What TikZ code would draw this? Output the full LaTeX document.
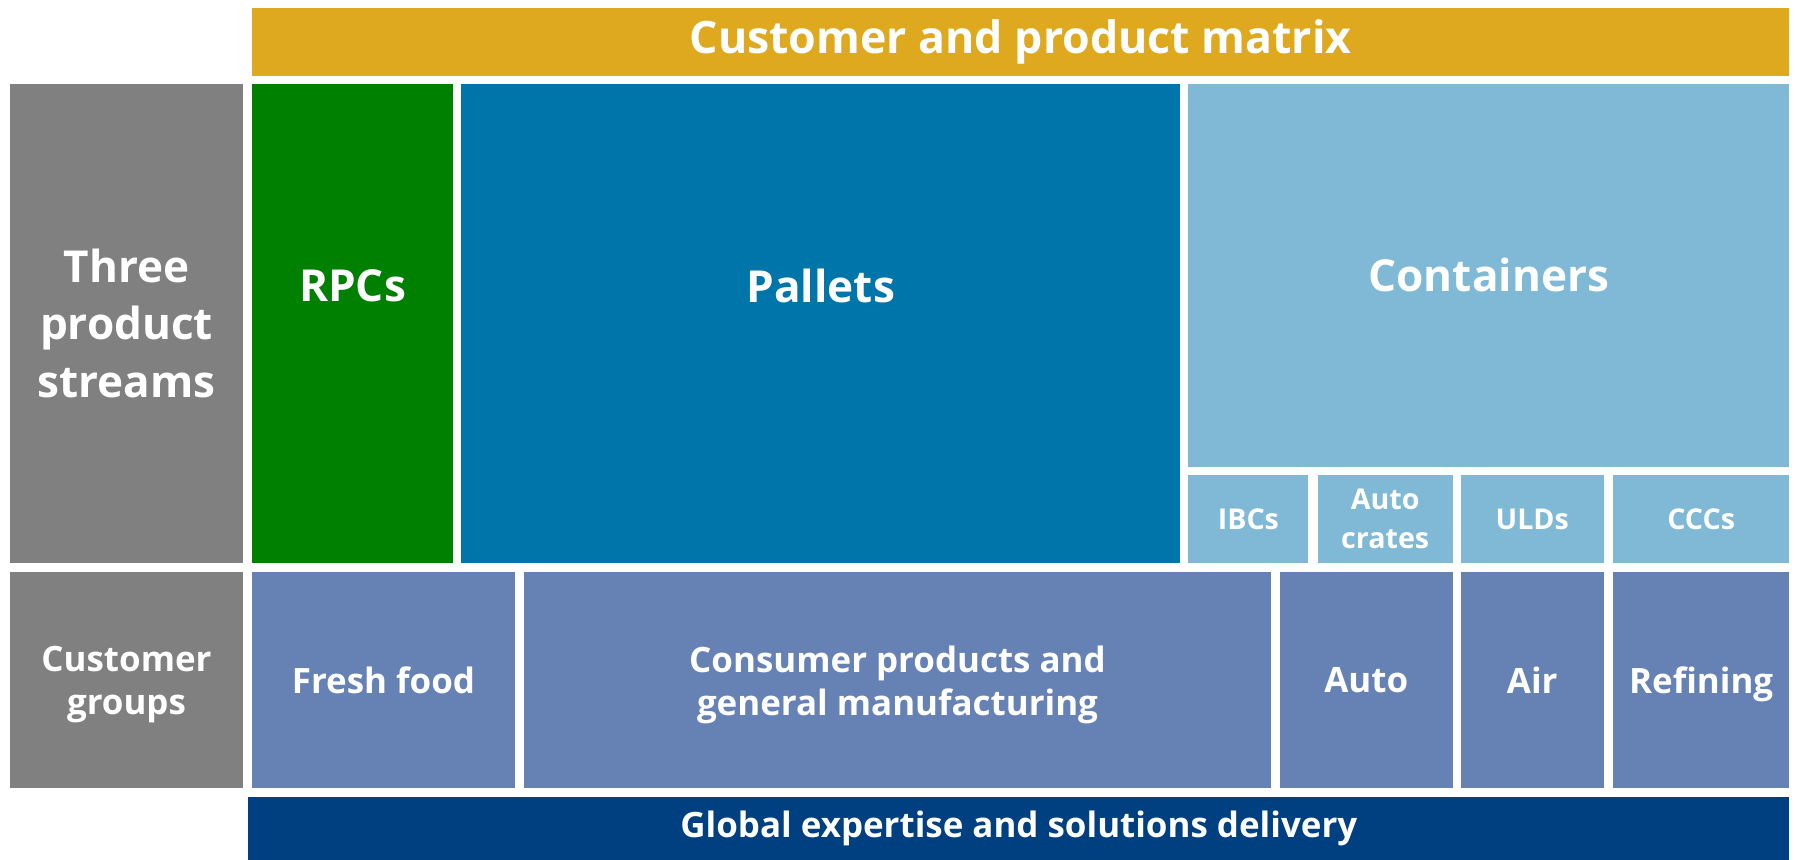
\documentclass[tikz,border=0pt]{standalone}
\usepackage{fontspec}
\setmainfont{Open Sans}
\definecolor{cgold}{RGB}{223,169,31}
\definecolor{cgray}{RGB}{128,128,128}
\definecolor{cgreen}{RGB}{0,128,0}
\definecolor{cpal}{RGB}{0,117,170}
\definecolor{clight}{RGB}{128,185,214}
\definecolor{cmid}{RGB}{102,130,180}
\definecolor{cdark}{RGB}{0,64,128}
\tikzset{
  cell/.style={inner sep=0pt, outer sep=0pt, anchor=north west, text=white, align=center, font=\bfseries},
  lbl/.style={inner sep=0pt, text=white, align=center},
  big/.style={font=\fontsize{38.5}{50}\selectfont\bfseries},
  med/.style={font=\fontsize{30.5}{37.5}\selectfont\bfseries},
  sml/.style={font=\fontsize{25}{34}\selectfont\bfseries},
  ttl/.style={font=\fontsize{39}{42}\selectfont\bfseries},
}
\begin{document}
\begin{tikzpicture}[x=1pt,y=-1pt]
\useasboundingbox (0,0) rectangle (1568,751);
% top title
\node[cell, ttl, fill=cgold, minimum width=1343pt, minimum height=59pt] (title) at (220,7) {Customer and product matrix};
% product streams row
\node[cell, big, fill=cgray, minimum width=203pt, minimum height=419pt] (three) at (9,73) {Three\\product\\streams};
\node[cell, fill=cgreen, minimum width=176pt, minimum height=419pt] (rpc) at (220,73) {};
\node[lbl, big] (rpct) at (308,250) {RPCs};
\node[cell, fill=cpal, minimum width=628pt, minimum height=419pt] (pal) at (403,73) {};
\node[lbl, big] (palt) at (717,250) {Pallets};
\node[cell, big, fill=clight, minimum width=525pt, minimum height=335pt] (cont) at (1038,73) {Containers};
\node[cell, sml, fill=clight, minimum width=105pt, minimum height=77pt] (ibc) at (1038,415) {IBCs};
\node[cell, sml, fill=clight, minimum width=118pt, minimum height=77pt] (autoc) at (1151,415) {Auto\\crates};
\node[cell, sml, fill=clight, minimum width=125pt, minimum height=77pt] (uld) at (1276,415) {ULDs};
\node[cell, sml, fill=clight, minimum width=154pt, minimum height=77pt] (ccc) at (1409,415) {CCCs};
% customer groups row
\node[cell, fill=cgray, minimum width=203pt, minimum height=188pt] (cg) at (9,500) {};
\node[lbl, med] (cgt) at (110.5,598) {Customer\\groups};
\node[cell, med, fill=cmid, minimum width=230pt, minimum height=188pt] (fresh) at (220,500) {Fresh food};
\node[cell, fill=cmid, minimum width=652pt, minimum height=188pt] (cons) at (458,500) {};
\node[lbl, med] (const) at (784,598) {Consumer products and\\general manufacturing};
\node[cell, med, fill=cmid, minimum width=151pt, minimum height=188pt] (auto) at (1118,500) {Auto};
\node[cell, med, fill=cmid, minimum width=125pt, minimum height=188pt] (air) at (1276,500) {Air};
\node[cell, med, fill=cmid, minimum width=154pt, minimum height=188pt] (ref) at (1409,500) {\raisebox{0pt}[\height][0pt]{Refining}};
% bottom bar
\node[cell, med, fill=cdark, minimum width=1346pt, minimum height=55pt] (glob) at (217,696) {Global expertise and solutions delivery};
\end{tikzpicture}
\end{document}
